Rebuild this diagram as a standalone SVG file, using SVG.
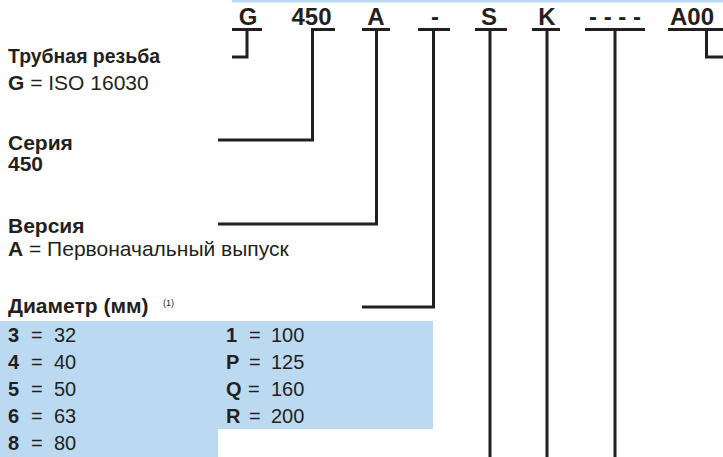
<svg xmlns="http://www.w3.org/2000/svg" width="723" height="457" viewBox="0 0 723 457">
<style>
text{font-family:"Liberation Sans",Arial,Helvetica,sans-serif;fill:#231f20}
.b{font-weight:bold}
.code{font-weight:bold;font-size:24px;text-anchor:middle}
.lbl{font-size:21px}
.tb{font-size:20px}
.ln{fill:none;stroke:#231f20;stroke-width:3;stroke-linecap:butt;stroke-linejoin:miter}
</style>
<rect x="0" y="0" width="723" height="457" fill="#fff"/>
<rect x="232" y="0" width="491" height="2.5" fill="#bcd9f2"/>
<g id="code">
<text class="code" x="248" y="25">G</text>
<text class="code" x="311.5" y="25">450</text>
<text class="code" x="376" y="25">A</text>
<text class="code" x="435" y="25">-</text>
<text class="code" x="489" y="25">S</text>
<text class="code" x="547" y="25">K</text>
<text class="code" x="615" y="25">- - - -</text>
<text class="code" x="670" y="25" style="text-anchor:start">A00</text>
</g>
<g id="connectors">
<path class="ln" d="M232 29.5H262M247 29.5V57H232"/>
<path class="ln" d="M311 29.5H335M312.5 29.5V140H218"/>
<path class="ln" d="M362 29.5H390M376.5 29.5V224H218"/>
<path class="ln" d="M418 29.5H450M433.5 29.5V307H362"/>
<path class="ln" d="M475 29.5H507M490 29.5V457"/>
<path class="ln" d="M532 29.5H560M547 29.5V457"/>
<path class="ln" d="M585 29.5H645M615 29.5V457"/>
<path class="ln" d="M668 29.5H723M706.5 29.5V57H723"/>
</g>
<g id="thread">
<text class="lbl b" x="8" y="63" textLength="152" lengthAdjust="spacingAndGlyphs">Трубная резьба</text>
<text class="lbl" x="8" y="90"><tspan class="b">G</tspan> = ISO 16030</text>
</g>
<g id="series">
<text class="lbl b" x="8" y="150">Серия</text>
<text class="lbl b" x="8" y="171">450</text>
</g>
<g id="version">
<text class="lbl b" x="8" y="233">Версия</text>
<text class="lbl" x="8" y="256"><tspan class="b">A</tspan> = Первоначальный выпуск</text>
</g>
<g id="diameter">
<text class="lbl b" x="8" y="313">Диаметр (мм)</text>
<text x="163" y="306" style="font-size:9px">(1)</text>
<path d="M0 321H433V429H218V457H0Z" fill="#bcd9f2"/>
<g class="tb">
<text x="8" y="342"><tspan class="b">3</tspan><tspan x="31">=</tspan><tspan x="54">32</tspan></text>
<text x="8" y="369"><tspan class="b">4</tspan><tspan x="31">=</tspan><tspan x="54">40</tspan></text>
<text x="8" y="396"><tspan class="b">5</tspan><tspan x="31">=</tspan><tspan x="54">50</tspan></text>
<text x="8" y="423"><tspan class="b">6</tspan><tspan x="31">=</tspan><tspan x="54">63</tspan></text>
<text x="8" y="450"><tspan class="b">8</tspan><tspan x="31">=</tspan><tspan x="54">80</tspan></text>
<text x="226" y="342"><tspan class="b">1</tspan><tspan x="249">=</tspan><tspan x="271">100</tspan></text>
<text x="226" y="369"><tspan class="b">P</tspan><tspan x="249">=</tspan><tspan x="271">125</tspan></text>
<text x="226" y="396"><tspan class="b">Q</tspan><tspan x="248">=</tspan><tspan x="271">160</tspan></text>
<text x="226" y="423"><tspan class="b">R</tspan><tspan x="249">=</tspan><tspan x="271">200</tspan></text>
</g>
</g>
</svg>
